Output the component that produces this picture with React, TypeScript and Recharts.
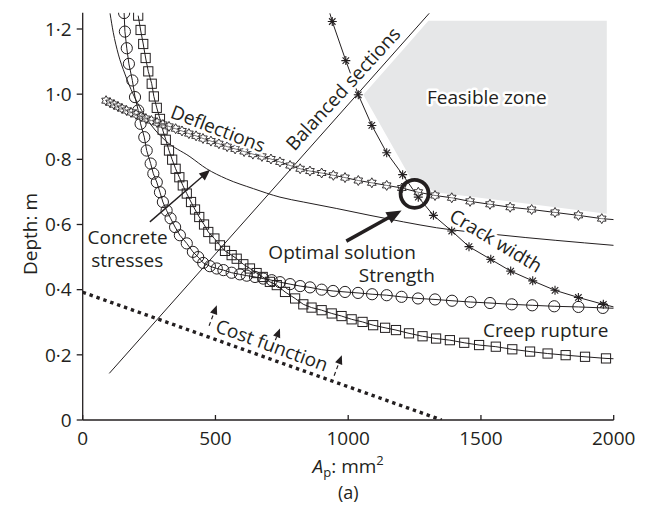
import React from 'react';
import { ComposedChart, Line, Area, XAxis, YAxis, ReferenceDot, ReferenceLine } from 'recharts';

const INK = '#231f20';
const FONT = '"Open Sans", sans-serif';

// axis ticks
const xTicks = [0, 500, 1000, 1500, 2000];
const yTicks = [0, 0.2, 0.4, 0.6, 0.8, 1.0, 1.2];

// Strength (circles)
const strengthPts = [
  { x: 156, y: 1.249 }, { x: 159, y: 1.192 }, { x: 166, y: 1.141 }, { x: 174, y: 1.093 },
  { x: 187, y: 1.042 }, { x: 197, y: 0.991 }, { x: 209, y: 0.95 }, { x: 218, y: 0.909 },
  { x: 232, y: 0.868 }, { x: 241, y: 0.827 }, { x: 256, y: 0.787 }, { x: 266, y: 0.756 },
  { x: 279, y: 0.73 }, { x: 291, y: 0.699 }, { x: 302, y: 0.669 }, { x: 316, y: 0.643 },
  { x: 331, y: 0.619 }, { x: 348, y: 0.592 }, { x: 366, y: 0.567 }, { x: 392, y: 0.542 },
  { x: 415, y: 0.516 }, { x: 435, y: 0.5 }, { x: 454, y: 0.482 }, { x: 479, y: 0.472 },
  { x: 505, y: 0.465 }, { x: 530, y: 0.46 }, { x: 561, y: 0.452 }, { x: 592, y: 0.447 },
  { x: 618, y: 0.443 }, { x: 649, y: 0.439 }, { x: 680, y: 0.434 }, { x: 712, y: 0.429 },
  { x: 743, y: 0.423 }, { x: 781, y: 0.417 }, { x: 819, y: 0.411 }, { x: 856, y: 0.407 },
  { x: 900, y: 0.4 }, { x: 943, y: 0.396 }, { x: 988, y: 0.393 }, { x: 1037, y: 0.39 },
  { x: 1090, y: 0.386 }, { x: 1145, y: 0.383 }, { x: 1201, y: 0.378 }, { x: 1263, y: 0.373 },
  { x: 1327, y: 0.37 }, { x: 1391, y: 0.366 }, { x: 1461, y: 0.362 }, { x: 1534, y: 0.359 },
  { x: 1616, y: 0.355 }, { x: 1693, y: 0.352 }, { x: 1776, y: 0.349 }, { x: 1867, y: 0.347 },
  { x: 1959, y: 0.344 }, { x: 2000, y: 0.343, m: false },
];

// Creep rupture (squares)
const creepPts = [
  { x: 209, y: 1.241 }, { x: 218, y: 1.197 }, { x: 228, y: 1.154 }, { x: 237, y: 1.111 },
  { x: 247, y: 1.07 }, { x: 260, y: 1.032 }, { x: 268, y: 0.993 }, { x: 279, y: 0.958 },
  { x: 291, y: 0.924 }, { x: 301, y: 0.891 }, { x: 313, y: 0.86 }, { x: 325, y: 0.827 },
  { x: 337, y: 0.799 }, { x: 350, y: 0.771 }, { x: 364, y: 0.745 }, { x: 377, y: 0.72 },
  { x: 392, y: 0.695 }, { x: 408, y: 0.669 }, { x: 423, y: 0.646 }, { x: 439, y: 0.623 },
  { x: 457, y: 0.6 }, { x: 473, y: 0.577 }, { x: 496, y: 0.557 }, { x: 517, y: 0.536 },
  { x: 536, y: 0.519 }, { x: 561, y: 0.506 }, { x: 580, y: 0.495 }, { x: 605, y: 0.478 },
  { x: 630, y: 0.465 }, { x: 655, y: 0.451 }, { x: 678, y: 0.439 }, { x: 705, y: 0.424 },
  { x: 731, y: 0.414 }, { x: 762, y: 0.393 }, { x: 800, y: 0.373 }, { x: 831, y: 0.355 },
  { x: 862, y: 0.345 }, { x: 900, y: 0.337 }, { x: 938, y: 0.327 }, { x: 975, y: 0.319 },
  { x: 1013, y: 0.309 }, { x: 1054, y: 0.301 }, { x: 1094, y: 0.291 }, { x: 1139, y: 0.283 },
  { x: 1180, y: 0.276 }, { x: 1229, y: 0.266 }, { x: 1280, y: 0.257 }, { x: 1331, y: 0.25 },
  { x: 1383, y: 0.245 }, { x: 1437, y: 0.237 }, { x: 1493, y: 0.23 }, { x: 1556, y: 0.225 },
  { x: 1618, y: 0.217 }, { x: 1685, y: 0.21 }, { x: 1751, y: 0.204 }, { x: 1819, y: 0.199 },
  { x: 1892, y: 0.194 }, { x: 1971, y: 0.189 }, { x: 2000, y: 0.188, m: false },
];

// Concrete stresses (plain line)
const concretePts = [
  { x: 103, y: 1.248 }, { x: 115, y: 1.19 }, { x: 134, y: 1.123 }, { x: 159, y: 1.062 },
  { x: 190, y: 1.0 }, { x: 222, y: 0.95 }, { x: 260, y: 0.903 }, { x: 311, y: 0.858 },
  { x: 404, y: 0.808 }, { x: 467, y: 0.771 }, { x: 542, y: 0.74 }, { x: 643, y: 0.71 },
  { x: 743, y: 0.684 }, { x: 831, y: 0.669 }, { x: 957, y: 0.649 }, { x: 1082, y: 0.628 },
  { x: 1208, y: 0.608 }, { x: 1333, y: 0.59 }, { x: 1559, y: 0.569 }, { x: 2000, y: 0.536 },
];

// Deflections (six-pointed stars)
const deflectionPts = [
  { x: 88, y: 0.98 }, { x: 103, y: 0.974 }, { x: 118, y: 0.968 }, { x: 133, y: 0.962 },
  { x: 148, y: 0.956 }, { x: 165, y: 0.95 }, { x: 182, y: 0.944 }, { x: 201, y: 0.938 },
  { x: 220, y: 0.931 }, { x: 238, y: 0.925 }, { x: 259, y: 0.919 }, { x: 280, y: 0.913 },
  { x: 302, y: 0.907 }, { x: 325, y: 0.901 }, { x: 350, y: 0.894 }, { x: 374, y: 0.887 },
  { x: 400, y: 0.879 }, { x: 427, y: 0.872 }, { x: 453, y: 0.864 }, { x: 483, y: 0.856 },
  { x: 513, y: 0.848 }, { x: 544, y: 0.839 }, { x: 574, y: 0.832 }, { x: 608, y: 0.824 },
  { x: 641, y: 0.816 }, { x: 675, y: 0.809 }, { x: 709, y: 0.801 }, { x: 743, y: 0.792 },
  { x: 781, y: 0.781 }, { x: 819, y: 0.771 }, { x: 856, y: 0.764 }, { x: 900, y: 0.758 },
  { x: 944, y: 0.751 }, { x: 988, y: 0.744 }, { x: 1038, y: 0.735 }, { x: 1089, y: 0.728 },
  { x: 1145, y: 0.72 }, { x: 1202, y: 0.712 }, { x: 1264, y: 0.699 }, { x: 1327, y: 0.689 },
  { x: 1390, y: 0.682 }, { x: 1459, y: 0.671 }, { x: 1534, y: 0.662 }, { x: 1610, y: 0.653 },
  { x: 1691, y: 0.646 }, { x: 1779, y: 0.637 }, { x: 1867, y: 0.628 }, { x: 1955, y: 0.618 },
  { x: 2000, y: 0.615, m: false },
];

// Crack width (asterisks)
const crackPts = [
  { x: 931, y: 1.248, m: false }, { x: 940, y: 1.223 }, { x: 991, y: 1.103 }, { x: 1038, y: 0.998 },
  { x: 1089, y: 0.904 }, { x: 1145, y: 0.82 }, { x: 1205, y: 0.753 }, { x: 1264, y: 0.684 },
  { x: 1321, y: 0.628 }, { x: 1390, y: 0.58 }, { x: 1455, y: 0.532 }, { x: 1537, y: 0.493 },
  { x: 1612, y: 0.457 }, { x: 1695, y: 0.427 }, { x: 1779, y: 0.398 }, { x: 1867, y: 0.376 },
  { x: 1961, y: 0.355 }, { x: 2000, y: 0.347, m: false },
];

const balancedPts = [{ x: 100, y: 0.143 }, { x: 1305, y: 1.248 }];
const costPts = [{ x: 0, y: 0.392 }, { x: 1352, y: 0 }];

// Feasible zone as [lower, upper]
const feasibleZone = [
  { x: 1057, r: [0.998, 0.998] },
  { x: 1233, r: [0.745, 1.161] },
  { x: 1302, r: [0.712, 1.225] },
  { x: 1327, r: [0.699, 1.225] },
  { x: 1974, r: [0.633, 1.225] },
];

const optimum = { x: 1250, y: 0.694 };

const labels = [
  { text: 'Deflections', x: 510, y: 0.895, angle: 21 },
  { text: 'Balanced sections', x: 980, y: 1.017, angle: -47.5 },
  { text: 'Feasible zone', x: 1522, y: 0.99, angle: 0 },
  { text: 'Crack width', x: 1557, y: 0.551, angle: 31 },
  { text: 'Optimal solution', x: 977, y: 0.515, angle: 0 },
  { text: 'Strength', x: 1183, y: 0.444, angle: 0 },
  { text: 'Concrete', x: 169, y: 0.562, angle: 0 },
  { text: 'stresses', x: 168, y: 0.49, angle: 0 },
  { text: 'Creep rupture', x: 1744, y: 0.276, angle: 0 },
  { text: 'Cost function', x: 713, y: 0.23, angle: 20 },
];

const arrows = [
  { from: { x: 993, y: 0.549 }, to: { x: 1201, y: 0.643 }, w: 3.5, head: 15, dash: undefined },
  { from: { x: 253, y: 0.608 }, to: { x: 480, y: 0.768 }, w: 1.4, head: 11, dash: undefined },
  { from: { x: 476, y: 0.289 }, to: { x: 505, y: 0.352 }, w: 1.2, head: 9, dash: '4 3' },
  { from: { x: 715, y: 0.223 }, to: { x: 743, y: 0.281 }, w: 1.2, head: 9, dash: '4 3' },
  { from: { x: 947, y: 0.136 }, to: { x: 976, y: 0.199 }, w: 1.2, head: 9, dash: '4 3' },
];

const hidden = (p: any) => p.payload && p.payload.m === false;

const circleDot = (p: any) =>
  hidden(p) ? <g key={p.index} /> : <circle key={p.index} cx={p.cx} cy={p.cy} r={5.6} fill="none" stroke={INK} strokeWidth={1} />;

const squareDot = (p: any) =>
  hidden(p) ? <g key={p.index} /> : <rect key={p.index} x={p.cx - 4.6} y={p.cy - 4.6} width={9.2} height={9.2} fill="none" stroke={INK} strokeWidth={1} />;

const starDot = (p: any) => {
  if (hidden(p)) return <g key={p.index} />;
  const pts: string[] = [];
  for (let i = 0; i < 12; i++) {
    const a = (Math.PI / 6) * i - Math.PI / 2;
    const rr = i % 2 === 0 ? 5 : 2.9;
    pts.push(`${p.cx + rr * Math.cos(a)},${p.cy + rr * Math.sin(a)}`);
  }
  return <polygon key={p.index} points={pts.join(' ')} fill="#fff" fillOpacity={0.4} stroke={INK} strokeWidth={0.9} />;
};

const asteriskDot = (p: any) => {
  if (hidden(p)) return <g key={p.index} />;
  const r = 4.5;
  const d = r * 0.72;
  return (
    <g key={p.index} stroke={INK} strokeWidth={1.1}>
      <line x1={p.cx} y1={p.cy - r} x2={p.cx} y2={p.cy + r} />
      <line x1={p.cx - r} y1={p.cy} x2={p.cx + r} y2={p.cy} />
      <line x1={p.cx - d} y1={p.cy - d} x2={p.cx + d} y2={p.cy + d} />
      <line x1={p.cx - d} y1={p.cy + d} x2={p.cx + d} y2={p.cy - d} />
    </g>
  );
};

const labelShape = (text: string, angle: number) => (p: any) => (
  <text
    x={p.cx}
    y={p.cy}
    transform={angle ? `rotate(${angle} ${p.cx} ${p.cy})` : undefined}
    textAnchor="middle"
    dominantBaseline="central"
    fontSize={19}
    fontFamily={FONT}
    fill={INK}
    stroke="#fff"
    strokeWidth={5}
    strokeLinejoin="round"
    paintOrder="stroke"
  >
    {text}
  </text>
);

const arrowShape = (w: number, head: number, dash?: string) => (p: any) => {
  const { x1, y1, x2, y2 } = p;
  const dx = x2 - x1;
  const dy = y2 - y1;
  const len = Math.sqrt(dx * dx + dy * dy) || 1;
  const ux = dx / len;
  const uy = dy / len;
  const bx = x2 - ux * head;
  const by = y2 - uy * head;
  const hw = head * 0.42;
  return (
    <g>
      <line x1={x1} y1={y1} x2={x2 - ux * head * 0.8} y2={y2 - uy * head * 0.8} stroke={INK} strokeWidth={w} strokeDasharray={dash} />
      <polygon points={`${x2},${y2} ${bx - uy * hw},${by + ux * hw} ${bx + uy * hw},${by - ux * hw}`} fill={INK} />
    </g>
  );
};

const XLabel = (props: any) => {
  const vb = props.viewBox;
  const cx = vb.x + vb.width / 2;
  return (
    <g fontFamily={FONT} fill={INK}>
      <text x={cx} y={473} textAnchor="middle" fontSize={19}>
        <tspan fontStyle="italic">A</tspan>
        <tspan fontSize={13} dy={4}>p</tspan>
        <tspan dy={-4}>: mm</tspan>
        <tspan fontSize={13} dy={-8}>2</tspan>
      </text>
      <text x={cx} y={499} textAnchor="middle" fontSize={18}>(a)</text>
    </g>
  );
};

const YLabel = () => (
  <text x={30} y={234} transform="rotate(-90 30 234)" textAnchor="middle" dominantBaseline="central" fontSize={19} fontFamily={FONT} fill={INK}>
    Depth: m
  </text>
);

const fmtY = (v: number) => (v === 0 ? '0' : v.toFixed(1).replace('.', '·'));

export default function App() {
  return (
    <div style={{ position: 'absolute', left: 0, top: 0, width: 655, height: 506, background: '#fff' }}>
      <ComposedChart width={655} height={506} margin={{ top: 12.7, right: 41.3, bottom: 56, left: 0 }}>
        <XAxis
          dataKey="x"
          type="number"
          domain={[0, 2000]}
          ticks={xTicks}
          allowDataOverflow
          height={30}
          stroke={INK}
          strokeWidth={1.3}
          tickSize={-5}
          tickMargin={17}
          tick={{ fill: INK, fontSize: 19, fontFamily: FONT }}
          label={<XLabel />}
        />
        <YAxis
          type="number"
          domain={[0, 1.25]}
          ticks={yTicks}
          allowDataOverflow
          width={82.7}
          stroke={INK}
          strokeWidth={1.3}
          tickSize={6}
          tickMargin={5}
          tickFormatter={fmtY}
          tick={{ fill: INK, fontSize: 19, fontFamily: FONT }}
          label={<YLabel />}
        />
        <Area
          data={feasibleZone}
          dataKey="r"
          type="linear"
          fill="#e6e7e8"
          fillOpacity={1}
          stroke="none"
          isAnimationActive={false}
          activeDot={false}
        />
        <Line data={costPts} dataKey="y" type="linear" stroke={INK} strokeWidth={3.4} strokeDasharray="3.4 3.9" dot={false} isAnimationActive={false} />
        <Line data={balancedPts} dataKey="y" type="linear" stroke={INK} strokeWidth={1} dot={false} isAnimationActive={false} />
        <Line data={concretePts} dataKey="y" type="monotone" stroke={INK} strokeWidth={1} dot={false} isAnimationActive={false} />
        <Line data={strengthPts} dataKey="y" type="linear" stroke={INK} strokeWidth={1} dot={circleDot} isAnimationActive={false} />
        <Line data={creepPts} dataKey="y" type="linear" stroke={INK} strokeWidth={1} dot={squareDot} isAnimationActive={false} />
        <Line data={crackPts} dataKey="y" type="linear" stroke={INK} strokeWidth={1} dot={asteriskDot} isAnimationActive={false} />
        <Line data={deflectionPts} dataKey="y" type="linear" stroke={INK} strokeWidth={1} dot={starDot} isAnimationActive={false} />
        {labels.map((l) => (
          <ReferenceDot key={l.text} x={l.x} y={l.y} r={0} shape={labelShape(l.text, l.angle)} />
        ))}
        {arrows.map((a, i) => (
          <ReferenceLine key={'a' + i} segment={[a.from, a.to]} shape={arrowShape(a.w, a.head, a.dash)} />
        ))}
        <ReferenceDot x={optimum.x} y={optimum.y} r={14} fill="none" stroke={INK} strokeWidth={3.8} />
      </ComposedChart>
    </div>
  );
}
